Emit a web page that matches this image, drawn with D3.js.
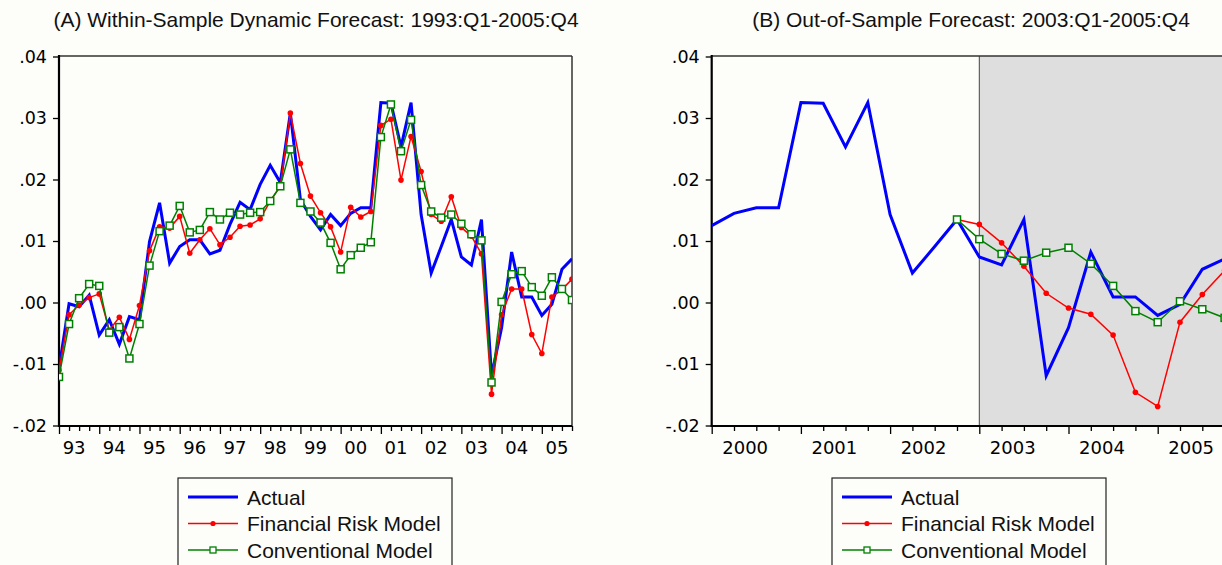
<!DOCTYPE html>
<html>
<head>
<meta charset="utf-8">
<script src="https://cdn.jsdelivr.net/npm/d3@7"></script>
<style>
  html, body { margin: 0; padding: 0; background: #fdfdfa; }
  svg { display: block; }
</style>
</head>
<body>
<svg id="chart" width="1222" height="565"></svg>
<script>
// ---------- DATA ----------
// Quarterly 1993:Q1 - 2005:Q4 (52 quarters)
const actual = [
  -0.0107, -0.0002, -0.0007, 0.0012, -0.0053, -0.0028, -0.0068, -0.0023,
  -0.0028, 0.0099, 0.0162, 0.0064, 0.0091, 0.0102, 0.0102, 0.0079,
  0.0085, 0.0127, 0.0163, 0.0151, 0.0192, 0.0223, 0.0195, 0.0308,
  0.0167, 0.0140, 0.0118, 0.0143, 0.0125, 0.0145, 0.0154, 0.0154,
  0.0325, 0.0324, 0.0253, 0.0325, 0.0143, 0.0048, 0.0091, 0.0135,
  0.0074, 0.0061, 0.0135, -0.0119, -0.0041, 0.0082, 0.0009, 0.0009,
  -0.0021, -0.0003, 0.0054, 0.0071
];
const financialRiskA = [
  -0.0110, -0.0020, -0.0004, 0.0008, 0.0014, -0.0045, -0.0024, -0.0060,
  -0.0005, 0.0084, 0.0123, 0.0121, 0.0140, 0.0080, 0.0102, 0.0120,
  0.0094, 0.0106, 0.0124, 0.0126, 0.0136, 0.0165, 0.0189, 0.0308,
  0.0226, 0.0173, 0.0146, 0.0123, 0.0082, 0.0155, 0.0139, 0.0148,
  0.0288, 0.0298, 0.0199, 0.0270, 0.0213, 0.0143, 0.0132, 0.0172,
  0.0122, 0.0108, 0.0079, -0.0149, -0.0020, 0.0022, 0.0022, -0.0052,
  -0.0083, 0.0009, 0.0021, 0.0038
];
const conventionalA = [
  -0.0121, -0.0035, 0.0007, 0.0030, 0.0027, -0.0049, -0.0040, -0.0091,
  -0.0035, 0.0060, 0.0116, 0.0125, 0.0157, 0.0114, 0.0118, 0.0147,
  0.0135, 0.0146, 0.0143, 0.0146, 0.0147, 0.0165, 0.0189, 0.0249,
  0.0162, 0.0148, 0.0130, 0.0097, 0.0054, 0.0077, 0.0089, 0.0098,
  0.0269, 0.0322, 0.0246, 0.0297, 0.0191, 0.0148, 0.0138, 0.0143,
  0.0128, 0.0111, 0.0101, -0.0130, 0.0001, 0.0046, 0.0051, 0.0025,
  0.0011, 0.0041, 0.0022, 0.0004
];
// Panel B: 2000:Q1 - 2005:Q4 ; forecasts from 2002:Q4 (index 11) to 2005:Q4
const actualB = actual.slice(28);
const forecastStartB = 11;
const financialRiskB = [0.0135, 0.0127, 0.0097, 0.0059, 0.0015, -0.0009, -0.0019,
  -0.0053, -0.0146, -0.0169, -0.0032, 0.0013, 0.0052];
const conventionalB = [0.0135, 0.0103, 0.0079, 0.0068, 0.0081, 0.0089, 0.0063,
  0.0027, -0.0014, -0.0032, 0.0002, -0.0011, -0.0025];

const yearLabelsA = ["93","94","95","96","97","98","99","00","01","02","03","04","05"];
const yearLabelsB = ["2000","2001","2002","2003","2004","2005"];
const yTicks = [-0.02, -0.01, 0.00, 0.01, 0.02, 0.03, 0.04];
const seriesNames = ["Actual", "Financial Risk Model", "Conventional Model"];
const titleA = "(A) Within-Sample Dynamic Forecast: 1993:Q1-2005:Q4";
const titleB = "(B) Out-of-Sample Forecast: 2003:Q1-2005:Q4";

// ---------- STYLE ----------
const C_BLUE = "#0000ff", C_RED = "#ff0000", C_GREEN = "#008000";
const svg = d3.select("#chart");
const plotTop = 56, plotBottom = 426;
const y = d3.scaleLinear().domain([-0.02, 0.04]).range([plotBottom - 0.5, plotTop + 0.5]);
const fmt = v => (v < 0 ? "-" : "") + d3.format(".2f")(Math.abs(v)).replace(/^0/, "");

function panel(opts) {
  const g = svg.append("g");
  const x = opts.x;
  const x0 = opts.left, x1 = opts.right;

  const clipId = "clip" + opts.id;
  svg.append("defs").append("clipPath").attr("id", clipId)
    .append("rect").attr("x", x0).attr("y", plotTop - 2).attr("width", x1 - x0).attr("height", plotBottom - plotTop + 4);

  if (opts.shadeFrom != null) {
    g.append("rect").attr("x", x(opts.shadeFrom)).attr("y", plotTop)
      .attr("width", x1 - x(opts.shadeFrom)).attr("height", plotBottom - plotTop)
      .attr("fill", "#dedede");
    g.append("line").attr("x1", x(opts.shadeFrom)).attr("x2", x(opts.shadeFrom))
      .attr("y1", plotTop).attr("y2", plotBottom).attr("stroke", "#444").attr("stroke-width", 1);
  }

  // y axis
  const ya = g.append("g").attr("transform", `translate(${x0},0)`)
    .call(d3.axisLeft(y).tickValues(yTicks).tickFormat(fmt).tickSize(6).tickPadding(6));
  ya.select(".domain").remove();
  ya.selectAll(".tick line").attr("stroke", "#000").attr("stroke-width", 1.3);
  ya.selectAll(".tick text").attr("font-family", "DejaVu Sans, sans-serif")
    .attr("font-size", 17.5).attr("fill", "#000");

  // x axis ticks (quarters)
  const xa = g.append("g").attr("transform", `translate(0,${plotBottom})`)
    .call(d3.axisBottom(x).tickValues(d3.range(opts.n)).tickFormat("").tickSize(5));
  xa.select(".domain").remove();
  xa.selectAll(".tick line").attr("stroke", "#000").attr("stroke-width", 1.3)
    .attr("y2", d => d % 4 === 0 ? 8 : 5);
  g.selectAll("text.yl").data(opts.years).join("text").attr("class", "yl")
    .attr("x", (d, i) => x(i * 4 + 1.5)).attr("y", plotBottom + 28)
    .attr("text-anchor", "middle").attr("font-family", "DejaVu Sans, sans-serif")
    .attr("font-size", 18).attr("fill", "#000").text(d => d);

  // frame
  g.append("line").attr("x1", x0).attr("x2", x1).attr("y1", plotTop).attr("y2", plotTop)
    .attr("stroke", "#333").attr("stroke-width", 1.5);
  if (opts.rightBorder) {
    g.append("line").attr("x1", x1).attr("x2", x1).attr("y1", plotTop).attr("y2", plotBottom)
      .attr("stroke", "#333").attr("stroke-width", 1.5);
  }
  g.append("line").attr("x1", x0).attr("x2", x0).attr("y1", plotTop - 1).attr("y2", plotBottom + 1)
    .attr("stroke", "#000").attr("stroke-width", 2.2);
  g.append("line").attr("x1", x0 - 1).attr("x2", x1).attr("y1", plotBottom).attr("y2", plotBottom)
    .attr("stroke", "#000").attr("stroke-width", 2.2);

  // series
  const plot = g.append("g").attr("clip-path", `url(#${clipId})`);
  const line = d3.line().x(d => x(d.i)).y(d => y(d.v));
  const toPts = (arr, off) => arr.map((v, k) => ({ i: k + off, v }));

  const a = toPts(opts.actual, 0);
  plot.append("path").datum(a).attr("d", line).attr("fill", "none")
    .attr("stroke", C_BLUE).attr("stroke-width", 3);

  const r = toPts(opts.frm, opts.off);
  plot.append("path").datum(r).attr("d", line).attr("fill", "none")
    .attr("stroke", C_RED).attr("stroke-width", 1.5);
  plot.selectAll("circle.r").data(r).join("circle").attr("class", "r")
    .attr("cx", d => x(d.i)).attr("cy", d => y(d.v)).attr("r", 2.8).attr("fill", C_RED);

  const c = toPts(opts.conv, opts.off);
  plot.append("path").datum(c).attr("d", line).attr("fill", "none")
    .attr("stroke", C_GREEN).attr("stroke-width", 1.5);
  plot.selectAll("rect.c").data(c).join("rect").attr("class", "c")
    .attr("x", d => x(d.i) - 3.5).attr("y", d => y(d.v) - 3.5)
    .attr("width", 7).attr("height", 7).attr("fill", "#fff")
    .attr("stroke", C_GREEN).attr("stroke-width", 1.5);

  // title
  svg.append("text").attr("x", opts.titleX).attr("y", 27).attr("text-anchor", "middle")
    .attr("font-family", "Liberation Sans, Arial, sans-serif").attr("font-size", 21)
    .attr("fill", "#111").text(opts.title);

  // legend
  const lg = svg.append("g").attr("transform", `translate(${opts.legendX},478)`);
  lg.append("rect").attr("x", 0).attr("y", 0).attr("width", 274).attr("height", 120)
    .attr("fill", "none").attr("stroke", "#222").attr("stroke-width", 1.2);
  const cols = [C_BLUE, C_RED, C_GREEN];
  seriesNames.forEach((name, k) => {
    const yy = 19 + k * 26.5;
    lg.append("line").attr("x1", 10).attr("x2", 60).attr("y1", yy).attr("y2", yy)
      .attr("stroke", cols[k]).attr("stroke-width", k === 0 ? 3 : 1.5);
    if (k === 1) lg.append("circle").attr("cx", 35).attr("cy", yy).attr("r", 2.6).attr("fill", C_RED);
    if (k === 2) lg.append("rect").attr("x", 32).attr("y", yy - 3).attr("width", 6).attr("height", 6)
      .attr("fill", "#fff").attr("stroke", C_GREEN).attr("stroke-width", 1.3);
    lg.append("text").attr("x", 69).attr("y", yy + 7.5)
      .attr("font-family", "Liberation Sans, Arial, sans-serif").attr("font-size", 21)
      .attr("fill", "#111").text(name);
  });
}

// Panel A
const xA = d3.scaleLinear().domain([0, actual.length - 1]).range([59, 572]);
panel({ id: "A", x: xA, left: 59, right: 572, n: actual.length, years: yearLabelsA,
  actual: actual, frm: financialRiskA, conv: conventionalA, off: 0,
  rightBorder: true, title: titleA, titleX: 316, legendX: 178 });

// Panel B
const xB = d3.scaleLinear().domain([0, actualB.length - 1]).range([711.7, 711.7 + 23 * 22.3]);
panel({ id: "B", x: xB, left: 711.7, right: 711.7 + 23 * 22.3, n: actualB.length, years: yearLabelsB,
  actual: actualB, frm: financialRiskB, conv: conventionalB, off: forecastStartB,
  shadeFrom: 12, rightBorder: true, title: titleB, titleX: 971, legendX: 832 });
</script>
</body>
</html>
